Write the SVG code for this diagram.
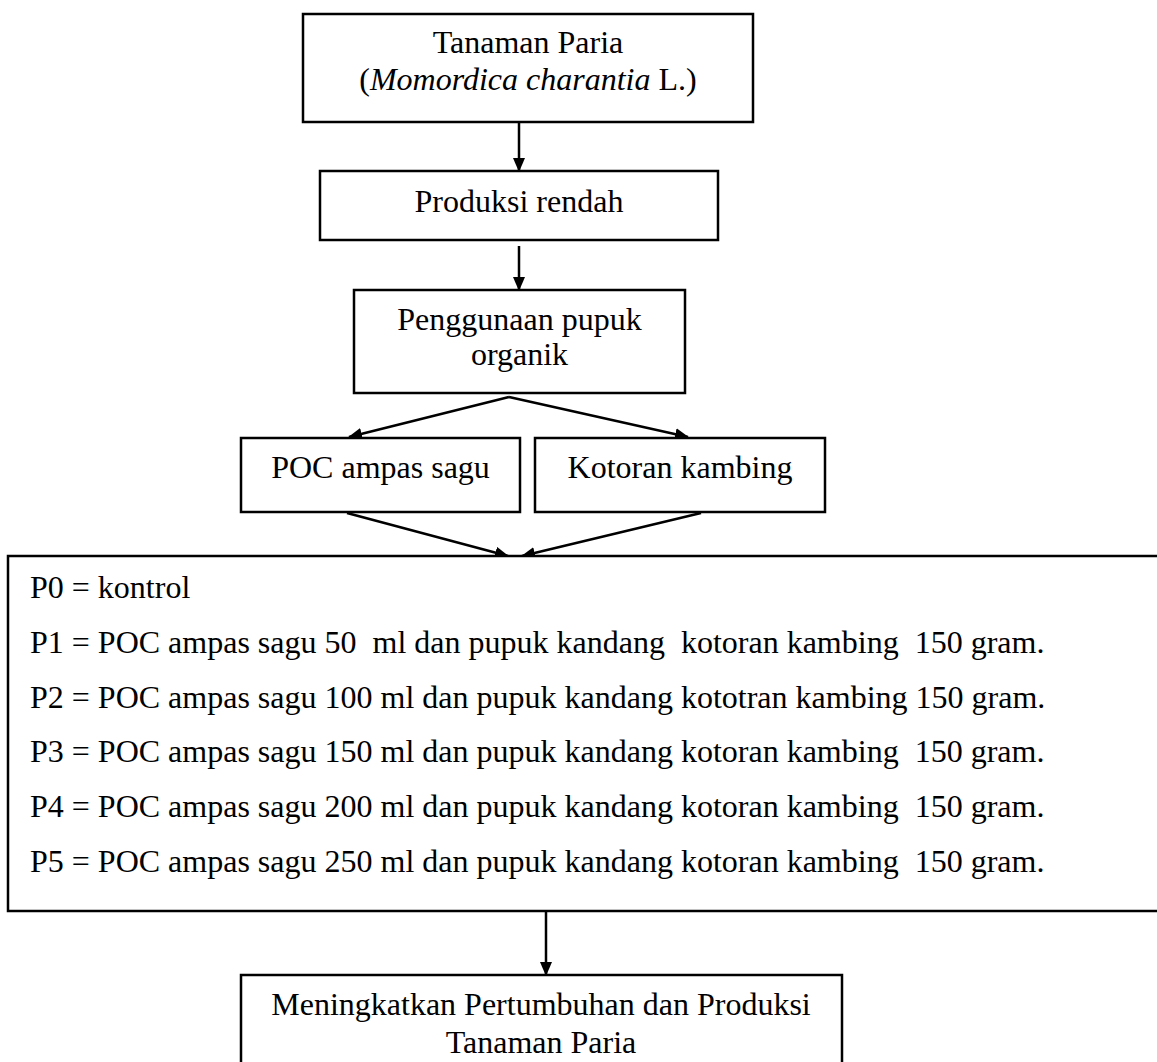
<svg xmlns="http://www.w3.org/2000/svg" width="1157" height="1062" viewBox="0 0 1157 1062">
<style>
.box{fill:#fff;stroke:#000;stroke-width:2.5}
.t{font-family:"Liberation Serif","Times New Roman",serif;font-size:32px;fill:#000}
.c{text-anchor:middle}
.ln{stroke:#000;stroke-width:2.5;fill:none}
</style>
<defs>
<marker id="ah" markerWidth="14" markerHeight="12" refX="13" refY="6" orient="auto" markerUnits="userSpaceOnUse">
<path d="M0,0 L14,6 L0,12 Z" fill="#000"/>
</marker>
</defs>
<rect width="1157" height="1062" fill="#fff"/>
<g id="connectors">
<line class="ln" x1="519" y1="122" x2="519" y2="171" marker-end="url(#ah)"/>
<line class="ln" x1="519" y1="246" x2="519" y2="290" marker-end="url(#ah)"/>
<line class="ln" x1="509" y1="397" x2="349" y2="437" marker-end="url(#ah)"/>
<line class="ln" x1="509" y1="397" x2="688" y2="437" marker-end="url(#ah)"/>
<line class="ln" x1="347" y1="513" x2="508" y2="556" marker-end="url(#ah)"/>
<line class="ln" x1="701" y1="513" x2="522" y2="556" marker-end="url(#ah)"/>
<line class="ln" x1="546" y1="911" x2="546" y2="975" marker-end="url(#ah)"/>
</g>
<g id="node-tanaman">
<rect class="box" x="303" y="14" width="450" height="108"/>
<text class="t c" x="528" y="53">Tanaman Paria</text>
<text class="t c" x="528" y="90">(<tspan font-style="italic">Momordica charantia</tspan> L.)</text>
</g>
<g id="node-produksi">
<rect class="box" x="320" y="171" width="398" height="69"/>
<text class="t c" x="519" y="212">Produksi rendah</text>
</g>
<g id="node-penggunaan">
<rect class="box" x="354" y="290" width="331" height="103"/>
<text class="t c" x="519.5" y="330">Penggunaan pupuk</text>
<text class="t c" x="519.5" y="365">organik</text>
</g>
<g id="node-poc">
<rect class="box" x="241" y="438" width="279" height="74"/>
<text class="t c" x="380.5" y="478">POC ampas sagu</text>
</g>
<g id="node-kotoran">
<rect class="box" x="535" y="438" width="290" height="74"/>
<text class="t c" x="680" y="478">Kotoran kambing</text>
</g>
<g id="node-perlakuan">
<rect class="box" x="8" y="556" width="1160" height="355"/>
<text class="t" x="30" y="598">P0 = kontrol</text>
<text class="t" x="30" y="653" xml:space="preserve">P1 = POC ampas sagu 50  ml dan pupuk kandang  kotoran kambing  150 gram.</text>
<text class="t" x="30" y="708" xml:space="preserve">P2 = POC ampas sagu 100 ml dan pupuk kandang kototran kambing 150 gram.</text>
<text class="t" x="30" y="762" xml:space="preserve">P3 = POC ampas sagu 150 ml dan pupuk kandang kotoran kambing  150 gram.</text>
<text class="t" x="30" y="817" xml:space="preserve">P4 = POC ampas sagu 200 ml dan pupuk kandang kotoran kambing  150 gram.</text>
<text class="t" x="30" y="872" xml:space="preserve">P5 = POC ampas sagu 250 ml dan pupuk kandang kotoran kambing  150 gram.</text>
</g>
<g id="node-hasil">
<rect class="box" x="241" y="975" width="601" height="100"/>
<text class="t c" x="541" y="1015">Meningkatkan Pertumbuhan dan Produksi</text>
<text class="t c" x="541" y="1053">Tanaman Paria</text>
</g>
</svg>
